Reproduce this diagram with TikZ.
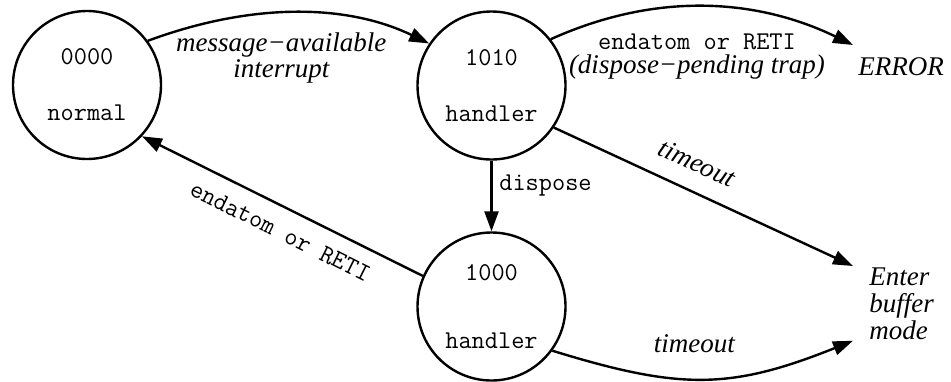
\documentclass[tikz,border=0pt]{standalone}
\usepackage{fontspec}
\setmainfont{Liberation Serif}
\usetikzlibrary{arrows.meta}
\newcommand{\codefont}{\fontsize{12.8}{12}\selectfont\ttfamily\upshape}
\tikzset{
  state/.style={circle, draw, line width=1.2pt, minimum size=74pt, inner sep=0pt, align=center, font=\fontsize{12.8}{28}\selectfont\ttfamily},
  trans/.style={line width=1.2pt, -{Triangle[length=10pt,width=7pt]}},
  lbl/.style={font=\fontsize{13.5}{13.5}\selectfont\itshape},
}
\begin{document}
\begin{tikzpicture}[x=0.5pt, y=-0.5pt]
\useasboundingbox (0,0) rectangle (951,381);
\node[state] (normal) at (87,85) {0000\\normal};
\node[state] (h1010) at (491.5,85.5) {1010\\handler};
\node[state] (h1000) at (491.5,306.5) {1000\\[6pt]handler};
\node[lbl, anchor=north west, inner xsep=2.5pt, inner ysep=6pt] (error) at (853,45) {ERROR};
\node[lbl, anchor=north west, align=left, inner xsep=8pt, inner ysep=0.5pt] (buffer) at (853,266) {Enter\\buffer\\mode};
% transitions
\draw[trans] (normal.36) .. controls (250,3) and (345,3) .. (h1010.146)
  node[lbl, midway, below=6pt, xshift=-7pt, align=center, font=\fontsize{13.5}{11.5}\selectfont\itshape] {message−available\\interrupt};
\draw[trans] (h1010.38) .. controls (660,-10) and (760,0) .. (error.north west)
  node[lbl, midway, below=9.5pt, xshift=-5.5pt, align=center, font=\fontsize{13.5}{12}\selectfont\itshape] {{\codefont endatom or RETI}\\(dispose−pending trap)};
\draw[trans] (h1010) -- (h1000) node[pos=0.35, right, font=\codefont] {dispose};
\draw[trans] (h1010.-34) -- (buffer.north west) node[lbl, pos=0.44, above=5.5pt, sloped] {timeout};
\draw[trans] (h1000.156) -- (normal.-43) node[pos=0.47, below=4pt, sloped, font=\codefont] {endatom or RETI};
\draw[trans] (h1000.-36) .. controls (680,390) and (730,390) .. (buffer.south west)
  node[lbl, midway, above=9pt, xshift=-5pt] {timeout};
\end{tikzpicture}
\end{document}
